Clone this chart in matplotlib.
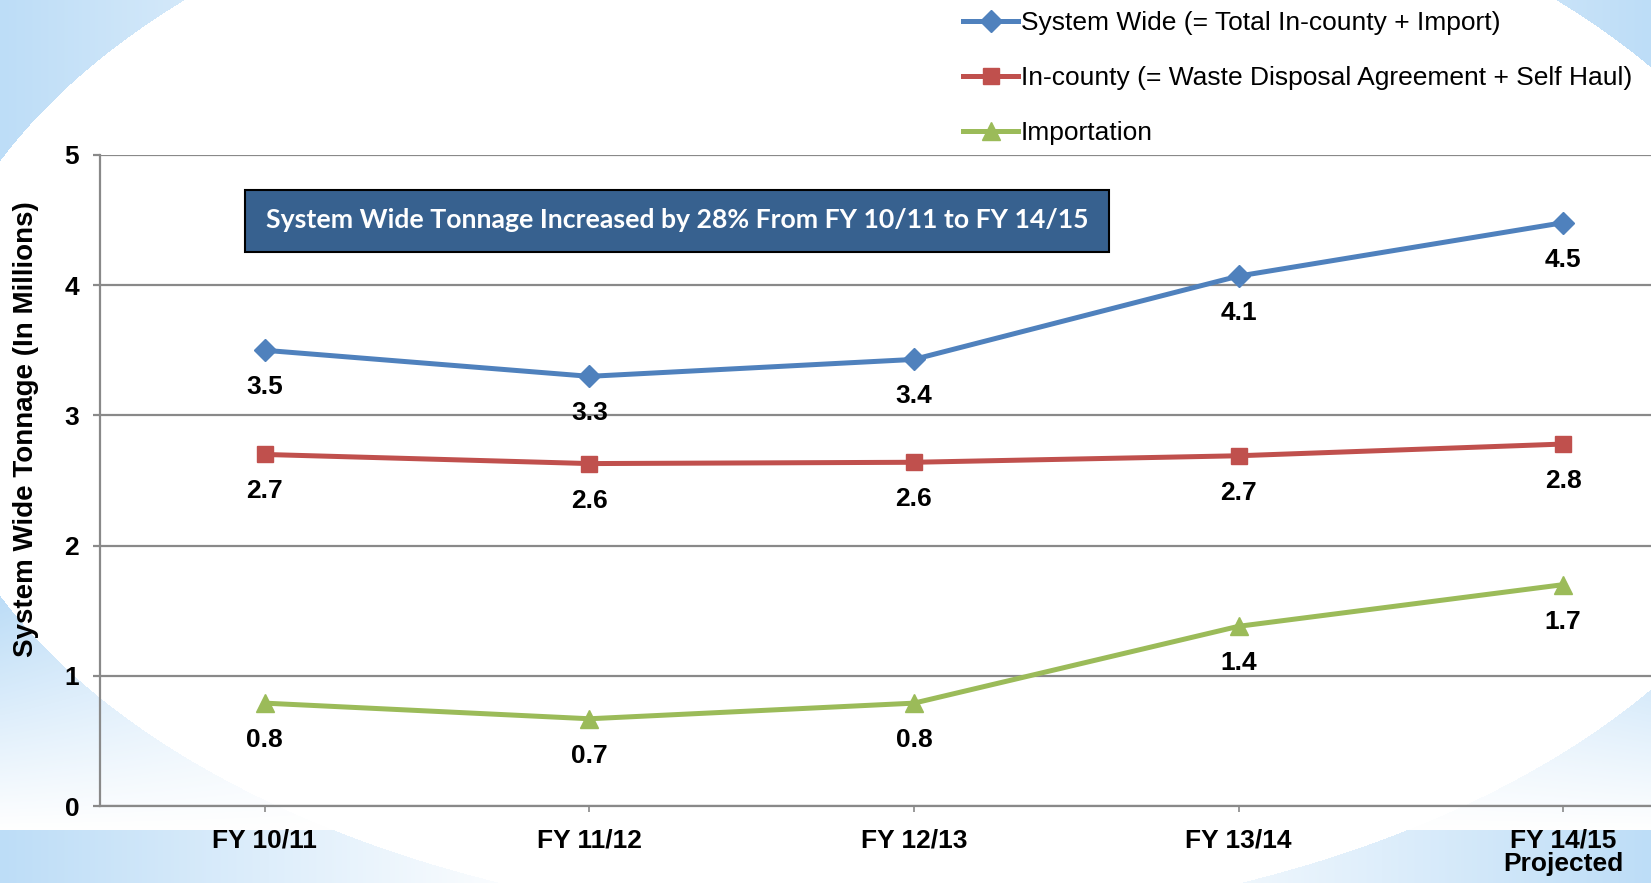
import numpy as np
import matplotlib
matplotlib.use("Agg")
import matplotlib.pyplot as plt
from matplotlib.patches import Rectangle

# Data
categories = ["FY 10/11", "FY 11/12", "FY 12/13", "FY 13/14", "FY 14/15\nProjected"]
system_wide = [3.50, 3.30, 3.43, 4.07, 4.48]
in_county = [2.70, 2.63, 2.64, 2.69, 2.78]
importation = [0.79, 0.67, 0.79, 1.38, 1.70]
system_labels = ["3.5", "3.3", "3.4", "4.1", "4.5"]
county_labels = ["2.7", "2.6", "2.6", "2.7", "2.8"]
import_labels = ["0.8", "0.7", "0.8", "1.4", "1.7"]
series_names = ["System Wide (= Total In-county + Import)",
                "In-county (= Waste Disposal Agreement + Self Haul)",
                "Importation"]
y_ticks = [0, 1, 2, 3, 4, 5]
callout = "System Wide Tonnage Increased by 28% From FY 10/11 to FY 14/15"

FONT = ["Liberation Sans", "DejaVu Sans"]
BLUE, RED, GREEN = "#4F81BD", "#C0504D", "#9BBB59"
GRID = "#898989"
W, H = 1651, 883

# background: pale blue corners outside a big white ellipse, plus a bottom band
def make_background():
    yy, xx = np.mgrid[0:H, 0:W].astype(float)
    horiz = np.clip((np.abs(xx - 825) / 825 - 0.35) / 0.65, 0, 1)
    vert = np.where(yy < 830, np.clip((830 - yy) / 230, 0, 1), 1.0)
    w = horiz * vert
    outside = ((xx - 870) / 948) ** 2 + ((yy - 378) / 548) ** 2 > 1
    w = np.where(outside, w, 0.0)
    blue = np.array([189, 221, 247]) / 255.0
    img = 1 - w[..., None] * (1 - blue)
    return img

fig = plt.figure(figsize=(W / 100, H / 100), dpi=100)
bg = fig.add_axes([0, 0, 1, 1])
bg.imshow(make_background(), aspect="auto", interpolation="bilinear")
bg.axis("off")

ax = fig.add_axes([100 / W, 1 - 806 / H, 1 - 100 / W, (806 - 155) / H])
ax.patch.set_alpha(0)

x = np.arange(len(categories))
ax.plot(x, system_wide, color=BLUE, lw=3.6, marker="D", ms=11, label=series_names[0], zorder=4)
ax.plot(x, in_county, color=RED, lw=3.6, marker="s", ms=12, label=series_names[1], zorder=4)
ax.plot(x, importation, color=GREEN, lw=3.6, marker="^", ms=13, label=series_names[2], zorder=4)

for vals, labs in [(system_wide, system_labels), (in_county, county_labels),
                   (importation, import_labels)]:
    for xi, v, lab in zip(x, vals, labs):
        ax.annotate(lab, (xi, v), xytext=(0, -37), textcoords="offset pixels",
                    ha="center", va="center", fontsize=19, fontweight="bold",
                    family=FONT, zorder=5)

ax.set_xlim(-0.508, 4.271)
ax.set_ylim(0, 5)
ax.set_yticks(y_ticks)
ax.set_xticks(x)
ax.set_xticklabels(categories)
ax.grid(axis="y", color=GRID, lw=1.6)
ax.set_axisbelow(True)
for s in ["top", "right"]:
    ax.spines[s].set_visible(False)
for s in ["left", "bottom"]:
    ax.spines[s].set_color(GRID)
    ax.spines[s].set_linewidth(1.6)
ax.tick_params(axis="y", length=5, width=1.6, color=GRID, pad=10)
ax.tick_params(axis="x", length=4, width=1.2, color=GRID, pad=12)
for lbl in ax.get_xticklabels() + ax.get_yticklabels():
    lbl.set_family(FONT)
    lbl.set_fontweight("bold")
    lbl.set_fontsize(19)
for lbl in ax.get_xticklabels():
    lbl.set_linespacing(1.0)

fig.text(26 / W, 1 - 429 / H, "System Wide Tonnage (In Millions)", rotation=90,
         ha="center", va="center", fontsize=20, fontweight="bold", family=FONT)

# callout box
fig.patches.append(Rectangle((245 / W, 1 - 252 / H), (1109 - 245) / W, 62 / H,
                             transform=fig.transFigure, facecolor="#37618F",
                             edgecolor="black", lw=1.5, zorder=3))
fig.text(677 / W, 1 - 220 / H, callout, ha="center", va="center", color="white",
         fontsize=19.2, fontweight="bold", family=["Lato", "DejaVu Sans"], zorder=4)

leg = fig.legend(loc="upper left", bbox_to_anchor=(963 / W, 1 - 11 / H), frameon=False,
                 prop={"family": FONT, "size": 19}, handlelength=2.1,
                 handletextpad=0.1, labelspacing=1.18, borderpad=0, borderaxespad=0)

fig.savefig("out.png", dpi=100)
